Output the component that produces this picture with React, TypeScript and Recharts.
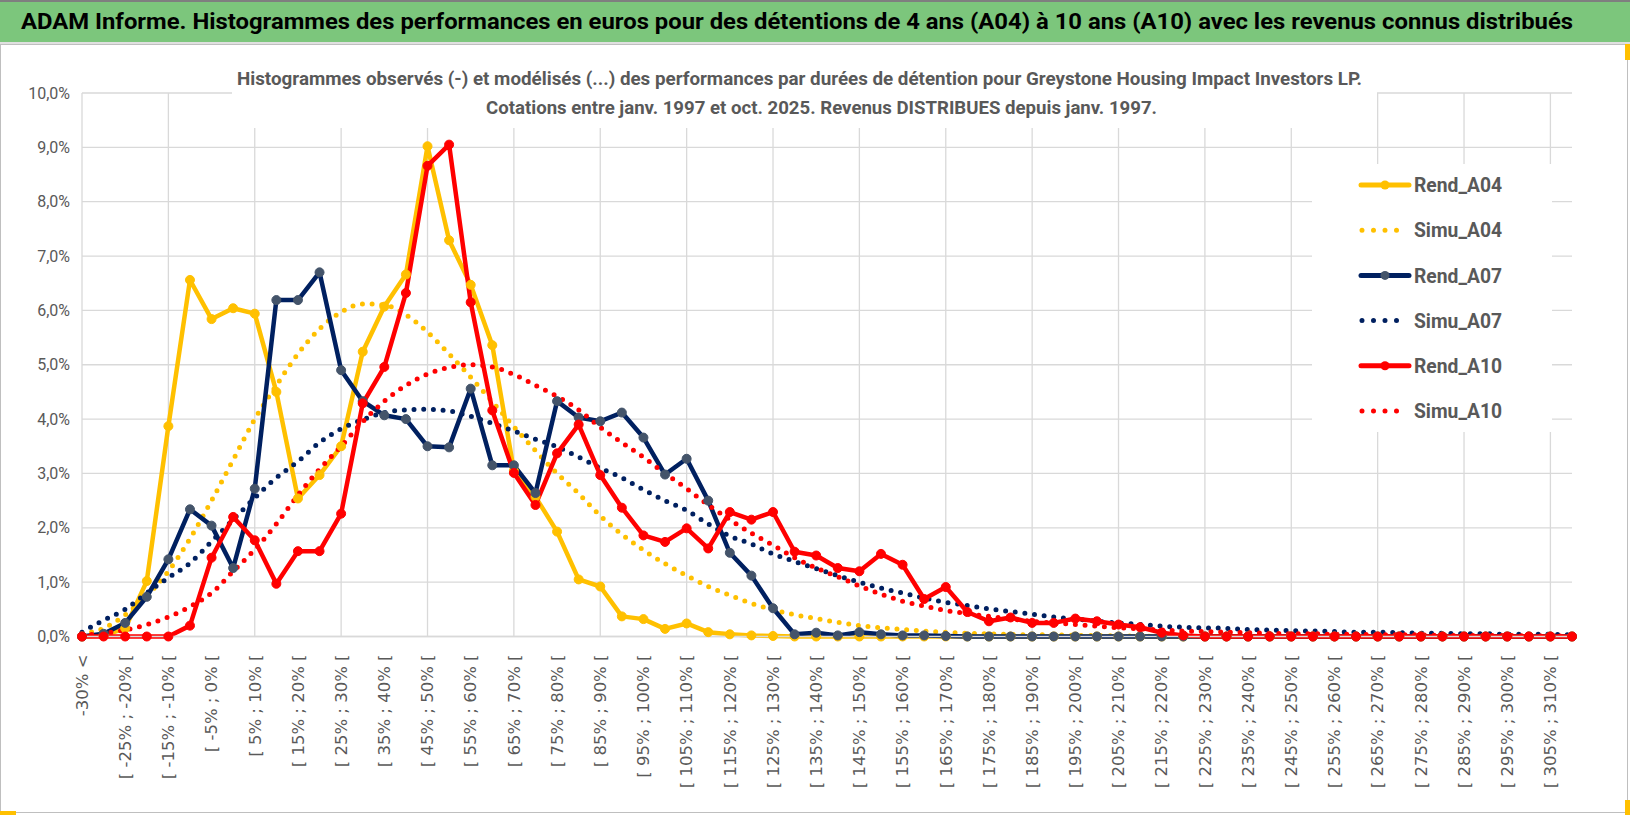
import { CartesianGrid, Line, LineChart, XAxis, YAxis } from 'recharts'

const categories = [
  '-30% <', '[ -30% ; -25% [', '[ -25% ; -20% [', '[ -20% ; -15% [', '[ -15% ; -10% [',
  '[ -10% ; -5% [', '[ -5% ; 0% [', '[ 0% ; 5% [', '[ 5% ; 10% [', '[ 10% ; 15% [',
  '[ 15% ; 20% [', '[ 20% ; 25% [', '[ 25% ; 30% [', '[ 30% ; 35% [', '[ 35% ; 40% [',
  '[ 40% ; 45% [', '[ 45% ; 50% [', '[ 50% ; 55% [', '[ 55% ; 60% [', '[ 60% ; 65% [',
  '[ 65% ; 70% [', '[ 70% ; 75% [', '[ 75% ; 80% [', '[ 80% ; 85% [', '[ 85% ; 90% [',
  '[ 90% ; 95% [', '[ 95% ; 100% [', '[ 100% ; 105% [', '[ 105% ; 110% [', '[ 110% ; 115% [',
  '[ 115% ; 120% [', '[ 120% ; 125% [', '[ 125% ; 130% [', '[ 130% ; 135% [', '[ 135% ; 140% [',
  '[ 140% ; 145% [', '[ 145% ; 150% [', '[ 150% ; 155% [', '[ 155% ; 160% [', '[ 160% ; 165% [',
  '[ 165% ; 170% [', '[ 170% ; 175% [', '[ 175% ; 180% [', '[ 180% ; 185% [', '[ 185% ; 190% [',
  '[ 190% ; 195% [', '[ 195% ; 200% [', '[ 200% ; 205% [', '[ 205% ; 210% [', '[ 210% ; 215% [',
  '[ 215% ; 220% [', '[ 220% ; 225% [', '[ 225% ; 230% [', '[ 230% ; 235% [', '[ 235% ; 240% [',
  '[ 240% ; 245% [', '[ 245% ; 250% [', '[ 250% ; 255% [', '[ 255% ; 260% [', '[ 260% ; 265% [',
  '[ 265% ; 270% [', '[ 270% ; 275% [', '[ 275% ; 280% [', '[ 280% ; 285% [', '[ 285% ; 290% [',
  '[ 290% ; 295% [', '[ 295% ; 300% [', '[ 300% ; 305% [', '[ 305% ; 310% [', '[ 310% ; 315% [',
]

// values in %
const rendA04 = [
  0, 0.02, 0.15, 1.02, 3.87, 6.56, 5.84, 6.04, 5.94, 4.5,
  2.54, 2.97, 3.5, 5.24, 6.07, 6.66, 9.02, 7.29, 6.47, 5.36,
  3.05, 2.57, 1.93, 1.05, 0.92, 0.37, 0.32, 0.14, 0.24, 0.08,
  0.04, 0.02, 0.01, 0, 0, 0, 0, 0, 0, 0,
  0, 0, 0, 0, 0, 0, 0, 0, 0, 0,
  0, 0, 0, 0, 0, 0, 0, 0, 0, 0,
  0, 0, 0, 0, 0, 0, 0, 0, 0, 0,
]

const simuA04 = [
  0.05, 0.15, 0.4, 0.75, 1.2, 1.8, 2.5, 3.25, 4.0, 4.62,
  5.2, 5.66, 5.97, 6.12, 6.1, 5.92, 5.6, 5.2, 4.77, 4.32,
  3.86, 3.42, 3.0, 2.63, 2.22, 1.88, 1.59, 1.34, 1.12, 0.92,
  0.76, 0.61, 0.49, 0.4, 0.33, 0.26, 0.2, 0.16, 0.13, 0.1,
  0.08, 0.06, 0.05, 0.04, 0.03, 0.03, 0.02, 0.02, 0.01, 0.01,
  0, 0, 0, 0, 0, 0, 0, 0, 0, 0,
  0, 0, 0, 0, 0, 0, 0, 0, 0, 0,
]

const rendA07 = [
  0, 0.05, 0.25, 0.73, 1.42, 2.34, 2.04, 1.26, 2.72, 6.19,
  6.19, 6.7, 4.9, 4.33, 4.07, 4.0, 3.5, 3.48, 4.56, 3.15,
  3.15, 2.64, 4.33, 4.03, 3.96, 4.12, 3.66, 2.98, 3.27, 2.5,
  1.54, 1.12, 0.52, 0.04, 0.07, 0.02, 0.08, 0.04, 0.02, 0.02,
  0.01, 0, 0, 0, 0, 0, 0, 0, 0, 0,
  0, 0, 0, 0, 0, 0, 0, 0, 0, 0,
  0, 0, 0, 0, 0, 0, 0, 0, 0, 0,
]

const simuA07 = [
  0.08, 0.3, 0.5, 0.8, 1.08, 1.35, 1.75, 2.15, 2.55, 2.92,
  3.22, 3.57, 3.82, 3.99, 4.12, 4.17, 4.18, 4.15, 4.05, 3.92,
  3.78, 3.63, 3.49, 3.3, 3.1, 2.92, 2.7, 2.5, 2.32, 2.07,
  1.85, 1.7, 1.52, 1.38, 1.25, 1.12, 1.0, 0.89, 0.8, 0.71,
  0.63, 0.57, 0.51, 0.46, 0.41, 0.36, 0.32, 0.28, 0.25, 0.22,
  0.19, 0.17, 0.16, 0.15, 0.13, 0.12, 0.11, 0.1, 0.09, 0.08,
  0.08, 0.07, 0.06, 0.06, 0.05, 0.05, 0.04, 0.04, 0.04, 0.03,
]

const rendA10 = [
  0, 0, 0, 0, 0, 0.2, 1.45, 2.2, 1.77, 0.97,
  1.57, 1.57, 2.26, 4.29, 4.96, 6.32, 8.66, 9.05, 6.15, 4.16,
  3.01, 2.42, 3.37, 3.9, 2.97, 2.37, 1.86, 1.74, 1.99, 1.62,
  2.29, 2.15, 2.29, 1.56, 1.49, 1.26, 1.2, 1.52, 1.32, 0.69,
  0.91, 0.45, 0.28, 0.35, 0.25, 0.25, 0.33, 0.28, 0.22, 0.17,
  0.07, 0.02, 0, 0, 0, 0, 0, 0, 0, 0,
  0, 0, 0, 0, 0, 0, 0, 0, 0, 0,
]

const simuA10 = [
  0.02, 0.06, 0.12, 0.22, 0.36, 0.55, 0.8, 1.2, 1.6, 2.07,
  2.6, 3.08, 3.5, 3.95, 4.33, 4.62, 4.83, 4.95, 5.0, 4.96,
  4.82, 4.62, 4.42, 4.17, 3.85, 3.57, 3.3, 3.0, 2.72, 2.42,
  2.15, 1.9, 1.68, 1.45, 1.26, 1.1, 0.93, 0.78, 0.65, 0.56,
  0.48, 0.42, 0.37, 0.32, 0.28, 0.25, 0.22, 0.19, 0.16, 0.14,
  0.12, 0.1, 0.09, 0.08, 0.07, 0.06, 0.05, 0.05, 0.04, 0.04,
  0.03, 0.03, 0.03, 0.02, 0.02, 0.02, 0.02, 0.01, 0.01, 0.01,
]

const yTicks = [0, 1, 2, 3, 4, 5, 6, 7, 8, 9, 10]

const series = [
  { key: 'Rend_A04', values: rendA04, color: '#FFC000', marker: '#FFC000', dotted: false },
  { key: 'Simu_A04', values: simuA04, color: '#FFC000', marker: '', dotted: true },
  { key: 'Rend_A07', values: rendA07, color: '#002060', marker: '#44546A', dotted: false },
  { key: 'Simu_A07', values: simuA07, color: '#002060', marker: '', dotted: true },
  { key: 'Rend_A10', values: rendA10, color: '#FF0000', marker: '#FF0000', dotted: false },
  { key: 'Simu_A10', values: simuA10, color: '#FF0000', marker: '', dotted: true },
]

const data = categories.map((label, i) => {
  const row: Record<string, string | number> = { label }
  series.forEach((s) => {
    row[s.key] = s.values[i]
  })
  return row
})

const narrow = 'Roboto, sans-serif'
const grey = '#595959'

function XTick({ x, y, payload }: any) {
  return (
    <text
      x={x}
      y={y}
      transform={`rotate(-90 ${x} ${y})`}
      textAnchor='end'
      dy='0.35em'
      fill={grey}
      fontSize={16.5}
      fontFamily='DejaVu Sans'
    >
      {payload.value}
    </text>
  )
}

function YTick({ y, payload }: any) {
  return (
    <text x={70} y={y} textAnchor='end' dy='0.35em' fill={grey} fontSize={16} fontFamily={narrow}>
      {payload.value.toFixed(1).replace('.', ',') + '%'}
    </text>
  )
}

function Legend() {
  return (
    <svg width={1630} height={815} style={{ position: 'absolute', left: 0, top: 0, pointerEvents: 'none' }}>
      <rect x={1312} y={164} width={240} height={268} fill='#fff' />
      {series.map((s, i) => {
        const y = 185 + i * 45.2
        return (
          <g key={s.key}>
            {s.dotted ? (
              <line x1={1362} x2={1408} y1={y} y2={y} stroke={s.color} strokeWidth={5} strokeDasharray='0 11.5' strokeLinecap='round' />
            ) : (
              <>
                <line x1={1361} x2={1409} y1={y} y2={y} stroke={s.color} strokeWidth={5} strokeLinecap='round' />
                <circle cx={1385} cy={y} r={4.5} fill={s.marker} />
              </>
            )}
            <text
              x={1414}
              y={y}
              dy='0.36em'
              fill={grey}
              fontSize={20}
              fontWeight='bold'
              fontFamily={narrow}
              textLength={88}
              lengthAdjust='spacingAndGlyphs'
            >
              {s.key}
            </text>
          </g>
        )
      })}
    </svg>
  )
}

function Titles() {
  return (
    <svg width={1630} height={815} style={{ position: 'absolute', left: 0, top: 0, pointerEvents: 'none' }}>
      <rect x={0} y={0} width={1630} height={42} fill='#7CC67C' />
      <rect x={0} y={0} width={1630} height={2} fill='#7F7F7F' />
      <rect x={0} y={42} width={1630} height={2} fill='#E0E0E0' />
      <text
        x={21}
        y={29}
        fontSize={22}
        fontWeight='bold'
        fontFamily={narrow}
        fill='#000'
        textLength={1552}
        lengthAdjust='spacingAndGlyphs'
      >
        ADAM Informe. Histogrammes des performances en euros pour des détentions de 4 ans (A04) à 10 ans (A10) avec les revenus connus distribués
      </text>
      <rect x={232} y={60} width={1145} height={68} fill='#fff' />
      <text
        x={237}
        y={85}
        fontSize={19}
        fontWeight='bold'
        fontFamily={narrow}
        fill={grey}
        textLength={1125}
        lengthAdjust='spacingAndGlyphs'
      >
        Histogrammes observés (-) et modélisés (...) des performances par durées de détention pour Greystone Housing Impact Investors LP.
      </text>
      <text
        x={486}
        y={114}
        fontSize={19}
        fontWeight='bold'
        fontFamily={narrow}
        fill={grey}
        textLength={671}
        lengthAdjust='spacingAndGlyphs'
      >
        Cotations entre janv. 1997 et oct. 2025.  Revenus DISTRIBUES depuis janv. 1997.
      </text>
      <rect x={1625} y={44} width={5} height={16} fill='#FFC000' />
      <rect x={1625} y={800} width={5} height={15} fill='#FFC000' />
      <rect x={0} y={811} width={16} height={4} fill='#FFC000' />
    </svg>
  )
}

export default function App() {
  return (
    <div style={{ position: 'relative', width: 1630, height: 815, background: '#fff', overflow: 'hidden' }}>
      <style>{'body{margin:0}'}</style>
      <div
        style={{
          position: 'absolute',
          left: 0,
          top: 44,
          width: 1626,
          height: 767,
          border: '1px solid #BFBFBF',
        }}
      />
      <div style={{ position: 'absolute', left: 0, top: 0 }}>
        <LineChart width={1630} height={815} data={data} margin={{ top: 93, right: 58, bottom: 0, left: 0 }}>
          <CartesianGrid
            stroke='#D9D9D9'
            strokeWidth={1.3}
            verticalCoordinatesGenerator={({ offset }: any) => {
              const step = offset.width / (categories.length - 1)
              return categories
                .map((_, i) => i)
                .filter((i) => i % 4 === 0)
                .map((i) => offset.left + i * step)
            }}
          />
          <XAxis
            dataKey='label'
            interval={1}
            height={178.5}
            tick={<XTick />}
            tickLine={false}
            tickSize={0}
            tickMargin={18}
            axisLine={{ stroke: '#D9D9D9', strokeWidth: 1.3 }}
          />
          <YAxis
            width={82}
            domain={[0, 10]}
            ticks={yTicks}
            tick={<YTick />}
            tickLine={false}
            axisLine={false}
          />
          {series.map((s) =>
            s.dotted ? (
              <Line
                key={s.key}
                dataKey={s.key}
                type='monotone'
                stroke={s.color}
                strokeWidth={5}
                strokeDasharray='0 9.7'
                strokeLinecap='round'
                dot={false}
                activeDot={false}
                isAnimationActive={false}
              />
            ) : (
              <Line
                key={s.key}
                dataKey={s.key}
                type='linear'
                stroke={s.color}
                strokeWidth={4.5}
                strokeLinejoin='round'
                dot={{ r: 4.5, fill: s.marker, stroke: s.marker, strokeWidth: 1 }}
                activeDot={false}
                isAnimationActive={false}
              />
            )
          )}
        </LineChart>
      </div>
      <Titles />
      <Legend />
    </div>
  )
}
